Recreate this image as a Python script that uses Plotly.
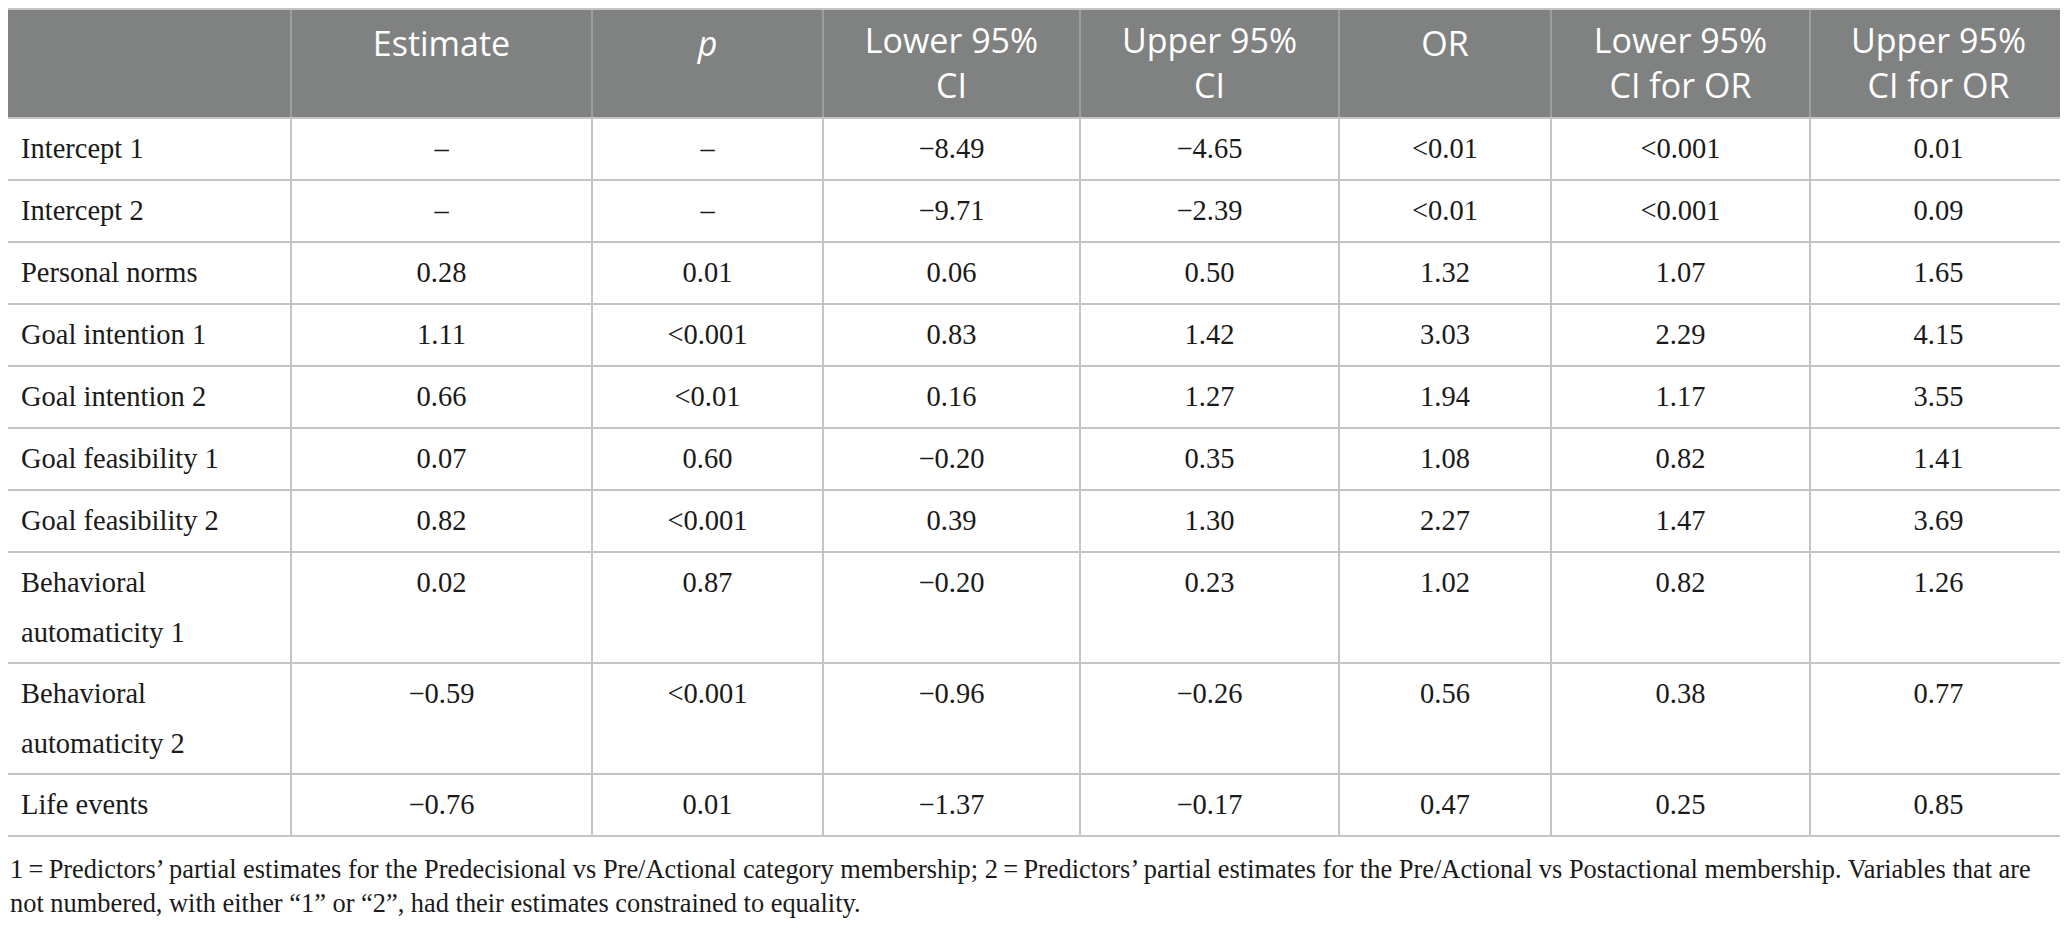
import plotly.graph_objects as go

# column headers
headers = ["", "Estimate", "<i>p</i>", "Lower 95%<br>CI", "Upper 95%<br>CI",
           "OR", "Lower 95%<br>CI for OR", "Upper 95%<br>CI for OR"]

predictors = ["Intercept 1", "Intercept 2", "Personal norms", "Goal intention 1",
              "Goal intention 2", "Goal feasibility 1", "Goal feasibility 2",
              "Behavioral<br>automaticity 1", "Behavioral<br>automaticity 2", "Life events"]
estimate = ["–", "–", "0.28", "1.11", "0.66", "0.07", "0.82", "0.02", "−0.59", "−0.76"]
p_value = ["–", "–", "0.01", "<0.001", "<0.01", "0.60", "<0.001", "0.87", "<0.001", "0.01"]
lower_ci = ["−8.49", "−9.71", "0.06", "0.83", "0.16", "−0.20", "0.39", "−0.20", "−0.96", "−1.37"]
upper_ci = ["−4.65", "−2.39", "0.50", "1.42", "1.27", "0.35", "1.30", "0.23", "−0.26", "−0.17"]
odds_ratio = ["<0.01", "<0.01", "1.32", "3.03", "1.94", "1.08", "2.27", "1.02", "0.56", "0.47"]
lower_or = ["<0.001", "<0.001", "1.07", "2.29", "1.17", "0.82", "1.47", "0.82", "0.38", "0.25"]
upper_or = ["0.01", "0.09", "1.65", "4.15", "3.55", "1.41", "3.69", "1.26", "0.77", "0.85"]

footnote = ("1\u2009=\u2009Predictors’ partial estimates for the Predecisional vs Pre/Actional category membership; "
            "2\u2009=\u2009Predictors’ partial estimates for the Pre/Actional vs Postactional membership. Variables that are<br>"
            "not numbered, with either “1” or “2”, had their estimates constrained to equality.")

columns = [predictors, estimate, p_value, lower_ci, upper_ci, odds_ratio, lower_or, upper_or]

# page is 2068x929, the browser body adds an 8px margin so the figure is offset by it
W, H = 2068, 929
OFF = 8
col_widths = [291, 301, 231, 257, 259, 212, 259, 257]
table_top = 9
header_h = 109
line_gap = 50     # distance between wrapped lines in body
first_line = 32.5 # centre of first text line below row top

n_lines = [len(s.split("<br>")) for s in predictors]
row_heights = [62 + (k - 1) * 49 for k in n_lines]

col_edges = [0]
for w in col_widths:
    col_edges.append(col_edges[-1] + w)
row_edges = [table_top + header_h]
for h in row_heights:
    row_edges.append(row_edges[-1] + h)

body_font = dict(family="Liberation Serif", size=28.5, color="#1a1a1a")
head_font = dict(family="Open Sans", size=34, color="white")


def esc(s):
    return s.replace("<br>", "\n").replace("<", "&lt;").replace("\n", "<br>")


fig = go.Figure()

# header background
fig.add_shape(type="rect", x0=0, x1=col_edges[-1], y0=table_top, y1=row_edges[0],
              fillcolor="#7f8280", line_width=0, layer="below")

# grid lines
for x in col_edges:
    fig.add_shape(type="line", x0=x, x1=x, y0=table_top, y1=row_edges[0],
                  line=dict(color="#a7a9a8", width=1.5))
    fig.add_shape(type="line", x0=x, x1=x, y0=row_edges[0], y1=row_edges[-1],
                  line=dict(color="#c4c4c4", width=2))
for y in [table_top] + row_edges:
    fig.add_shape(type="line", x0=0, x1=col_edges[-1], y0=y, y1=y,
                  line=dict(color="#c4c4c4", width=2))

# header text (wrapped headers sit around the header middle)
hx, hy = [], []
for j, h in enumerate(headers):
    hx.append((col_edges[j] + col_edges[j + 1]) / 2)
    hy.append(table_top + (58 if "<br>" in h else 38))
fig.add_trace(go.Scatter(x=hx, y=hy, text=headers, mode="text", textposition="middle center",
                         textfont=head_font, hoverinfo="skip", showlegend=False))

# body text
for j, col in enumerate(columns):
    xs, ys, ts = [], [], []
    for i, val in enumerate(col):
        for k, part in enumerate(val.split("<br>")):
            if j == 0:
                xs.append(col_edges[0] + 21)
            else:
                xs.append((col_edges[j] + col_edges[j + 1]) / 2)
            ys.append(row_edges[i] + first_line + k * line_gap)
            ts.append(esc(part))
    fig.add_trace(go.Scatter(x=xs, y=ys, text=ts, mode="text",
                             textposition="middle right" if j == 0 else "middle center",
                             textfont=body_font, hoverinfo="skip", showlegend=False))

# footnote
fig.add_annotation(text=esc(footnote), xref="x", yref="y", x=OFF, y=row_edges[-1] + 50,
                   xanchor="left", yanchor="middle", align="left", showarrow=False,
                   font=dict(family="Liberation Serif", size=26.4, color="#1a1a1a"))

fig.update_xaxes(range=[OFF, W], visible=False, fixedrange=True)
fig.update_yaxes(range=[H, OFF], visible=False, fixedrange=True)
fig.update_layout(width=W - OFF, height=H - OFF, margin=dict(l=0, r=0, t=0, b=0),
                  paper_bgcolor="white", plot_bgcolor="white")

fig.write_html("out.html")
